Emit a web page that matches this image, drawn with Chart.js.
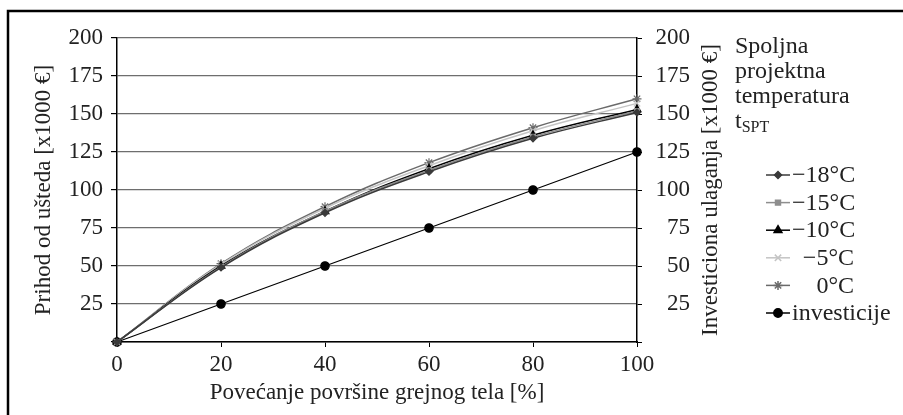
<!DOCTYPE html>
<html>
<head>
<meta charset="utf-8">
<script src="https://cdn.jsdelivr.net/npm/chart.js@4.4.0/dist/chart.umd.min.js"></script>
<style>
  html, body { margin: 0; padding: 0; background: #fff; }
  #wrap { width: 903px; height: 415px; }
</style>
</head>
<body>
<div id="wrap"><canvas id="grafik" width="903" height="415"></canvas></div>
<script>
// Povećanje površine grejnog tela [%]
const procenti = [0, 20, 40, 60, 80, 100];

// Prihod od ušteda [x1000 €] po spoljnoj projektnoj temperaturi
const minus18 = [0, 49, 85, 112, 134, 151];
const minus15 = [0, 49.5, 86, 113, 135, 152];
const minus10 = [0, 50, 86, 114, 136, 153];
const minus5 = [0, 51, 88, 116, 139, 157];
const nula = [0, 51.5, 89, 118, 141, 160];

// Investiciona ulaganja [x1000 €]
const investicije = [0, 25, 50, 75, 100, 125];

const oznake = ['\u221218°C', '\u221215°C', '\u221210°C', '\u22125°C', '0°C', 'investicije'];
const naslovLegende = ['Spoljna', 'projektna', 'temperatura'];

const FONT = 'Liberation Serif, Times New Roman, serif';

function tacke(vrednosti) {
  return procenti.map((p, i) => ({ x: p, y: vrednosti[i] }));
}

function serija(label, vrednosti, boja, stil, radius, tension) {
  return {
    label: label,
    data: tacke(vrednosti),
    borderColor: boja,
    backgroundColor: boja,
    borderWidth: 1.5,
    pointStyle: stil,
    pointRadius: radius,
    pointBorderWidth: 1.2,
    pointBackgroundColor: boja,
    pointBorderColor: boja,
    tension: tension,
    clip: false
  };
}

const datasets = [
  serija(oznake[0], minus18, '#3a3a3a', 'rectRot', 3.5, 0.4),
  serija(oznake[1], minus15, '#8e8e8e', 'rect', 3.5, 0.4),
  serija(oznake[2], minus10, '#000000', 'triangle', 4.5, 0.4),
  serija(oznake[3], minus5, '#c4c4c4', 'crossRot', 4.5, 0.4),
  serija(oznake[4], nula, '#6a6a6a', 'star', 4.5, 0.4),
  serija(oznake[5], investicije, '#000000', 'circle', 4.2, 0)
];
datasets[5].borderWidth = 1.2;

// okvir, naslov desne ose i legenda
const dodaci = {
  id: 'dodaci',
  afterDraw(chart) {
    const ctx = chart.ctx;
    const area = chart.chartArea;
    ctx.save();

    // okvir slike
    ctx.strokeStyle = '#000';
    ctx.lineWidth = 2.5;
    ctx.beginPath();
    ctx.moveTo(8, 415);
    ctx.lineTo(8, 11);
    ctx.lineTo(903, 11);
    ctx.stroke();

    // naslov desne ose
    ctx.fillStyle = '#222';
    ctx.font = '23px ' + FONT;
    ctx.textAlign = 'center';
    ctx.textBaseline = 'middle';
    ctx.translate(711, (area.top + area.bottom) / 2);
    ctx.rotate(-Math.PI / 2);
    ctx.fillText('Investiciona ulaganja [x1000 €]', 0, 0);
    ctx.setTransform(1, 0, 0, 1, 0, 0);

    // naslov legende
    ctx.textAlign = 'left';
    ctx.textBaseline = 'alphabetic';
    ctx.font = '24px ' + FONT;
    naslovLegende.forEach((t, i) => ctx.fillText(t, 735, 53 + i * 25));
    ctx.fillText('t', 735, 128);
    const tW = ctx.measureText('t').width;
    ctx.font = '16px ' + FONT;
    ctx.fillText('SPT', 735 + tW, 132);

    // stavke legende
    ctx.font = '24px ' + FONT;
    ctx.textBaseline = 'middle';
    chart.data.datasets.forEach((ds, i) => {
      const y = 175 + i * 27.6;
      ctx.strokeStyle = ds.borderColor;
      ctx.lineWidth = 1.5;
      ctx.beginPath();
      ctx.moveTo(766, y);
      ctx.lineTo(790, y);
      ctx.stroke();
      ctx.fillStyle = ds.pointBackgroundColor;
      ctx.strokeStyle = ds.pointBorderColor;
      Chart.helpers.drawPoint(ctx, {
        pointStyle: ds.pointStyle,
        radius: ds.pointRadius,
        rotation: 0,
        borderWidth: ds.pointBorderWidth
      }, 778, y);
      ctx.fillStyle = '#222';
      const w = ctx.measureText(ds.label).width;
      ctx.fillText(ds.label, Math.max(792, 854 - w), y + 1);
    });
    ctx.restore();
  }
};

new Chart(document.getElementById('grafik'), {
  type: 'line',
  data: { datasets: datasets },
  options: {
    responsive: false,
    devicePixelRatio: 1,
    animation: false,
    layout: { padding: { left: 0, top: 38, right: 213, bottom: 0 } },
    plugins: {
      legend: { display: false },
      tooltip: { enabled: false }
    },
    scales: {
      x: {
        type: 'linear',
        min: 0,
        max: 100,
        ticks: { stepSize: 20, padding: 4, color: '#222', font: { family: FONT, size: 23 } },
        grid: { drawOnChartArea: false, tickLength: 5, tickColor: '#000' },
        border: { color: '#000', width: 1.5 },
        title: {
          display: true,
          text: 'Povećanje površine grejnog tela [%]',
          color: '#222',
          font: { family: FONT, size: 23 },
          padding: { top: 0, bottom: 8 }
        },
        afterFit(scale) { scale.height = 73; }
      },
      y: {
        position: 'left',
        min: 0,
        max: 200,
        ticks: {
          stepSize: 25,
          padding: 8,
          color: '#222',
          font: { family: FONT, size: 23 },
          callback: v => (v === 0 ? '' : v)
        },
        grid: { color: '#6e6e6e', lineWidth: 1.2, tickLength: 6, tickColor: '#000' },
        border: { color: '#000', width: 1.5 },
        title: {
          display: true,
          text: 'Prihod od ušteda [x1000 €]',
          color: '#222',
          font: { family: FONT, size: 23 },
          padding: { top: 30, bottom: 0 }
        },
        afterFit(scale) { scale.width = 117; }
      },
      y2: {
        position: 'right',
        min: 0,
        max: 200,
        ticks: {
          stepSize: 25,
          padding: 13,
          crossAlign: 'far',
          color: '#222',
          font: { family: FONT, size: 23 },
          callback: v => (v === 0 ? '' : v)
        },
        grid: { drawOnChartArea: false, tickLength: 5, tickColor: '#000' },
        border: { color: '#000', width: 1.5 },
        afterFit(scale) { scale.width = 53; }
      }
    }
  },
  plugins: [dodaci]
});
</script>
</body>
</html>
